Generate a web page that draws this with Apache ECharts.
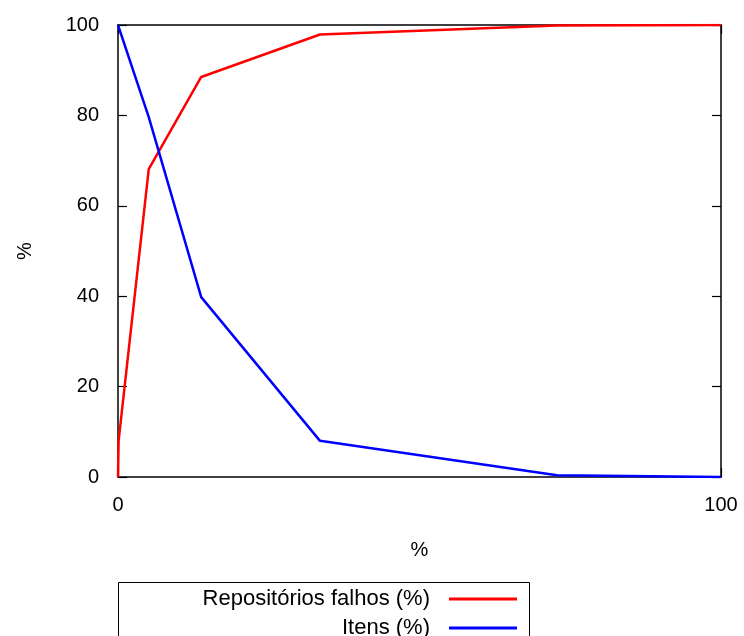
<!DOCTYPE html>
<html>
<head>
<meta charset="utf-8">
<script src="https://cdn.jsdelivr.net/npm/echarts@6/dist/echarts.min.js"></script>
<style>html,body{margin:0;padding:0;background:#fff;}#c{width:744px;height:636px;}</style>
</head>
<body>
<div id="c"></div>
<script>
const seriesNames = ['Repositórios falhos (%)', 'Itens (%)'];
const falhosX = [0, 0.1, 5.1, 13.8, 33.5, 72.8, 100];
const falhosY = [0, 8, 68.1, 88.5, 97.9, 99.9, 100];
const itensX = [0, 5.1, 13.8, 33.5, 72.8, 100];
const itensY = [100, 79.6, 39.8, 8.0, 0.4, 0];
const colors = ['#ff0000', '#0000ff'];
const xTicks = [0, 100];
const yTicks = [0, 20, 40, 60, 80, 100];

const font = 'Liberation Sans, Arial, Helvetica, sans-serif';
const chart = echarts.init(document.getElementById('c'));
const zip = (xs, ys) => xs.map((x, i) => [x, ys[i]]);
const axisCommon = {
  min: 0, max: 100,
  axisLine: {show: true, onZero: false, lineStyle: {color: '#000', width: 1.5}},
  axisTick: {show: true, inside: true, length: 9, lineStyle: {color: '#000', width: 1.2}},
  splitLine: {show: false}
};
chart.setOption({
  animation: false,
  backgroundColor: '#fff',
  grid: {left: 118, right: 23, top: 25, bottom: 159, containLabel: false},
  xAxis: [
    Object.assign({}, axisCommon, {
      type: 'value', position: 'bottom', interval: 100,
      name: '%', nameLocation: 'middle', nameGap: 63,
      nameTextStyle: {fontFamily: font, fontSize: 20, color: '#000'},
      axisLabel: {fontFamily: font, fontSize: 20, color: '#000', margin: 18,
        formatter: v => xTicks.includes(v) ? String(v) : ''}
    }),
    Object.assign({}, axisCommon, {
      type: 'value', position: 'top', interval: 100, axisLabel: {show: false}
    })
  ],
  yAxis: [
    Object.assign({}, axisCommon, {
      type: 'value', position: 'left', interval: 20,
      name: '%', nameLocation: 'middle', nameGap: 83,
      nameTextStyle: {fontFamily: font, fontSize: 20, color: '#000'},
      axisLabel: {fontFamily: font, fontSize: 20, color: '#000', margin: 19,
        formatter: v => yTicks.includes(v) ? String(v) : ''}
    }),
    Object.assign({}, axisCommon, {
      type: 'value', position: 'right', interval: 20, axisLabel: {show: false}
    })
  ],
  legend: {
    orient: 'vertical', align: 'right', right: 227, top: 588, height: 200,
    padding: 0, itemGap: 7, itemWidth: 68, itemHeight: 3,
    icon: 'rect',
    textStyle: {fontFamily: font, fontSize: 22, color: '#000', lineHeight: 22, padding: [0, 14, 0, 0]},
    data: seriesNames
  },
  graphic: [{
    type: 'rect', z: 0,
    shape: {x: 118.5, y: 582.5, width: 411, height: 80},
    style: {fill: 'none', stroke: '#000', lineWidth: 1}
  }],
  series: [
    {name: seriesNames[0], type: 'line', data: zip(falhosX, falhosY), showSymbol: false,
     color: colors[0], lineStyle: {width: 2.5, color: colors[0]}, z: 3},
    {name: seriesNames[1], type: 'line', data: zip(itensX, itensY), showSymbol: false,
     color: colors[1], lineStyle: {width: 2.5, color: colors[1]}, z: 3}
  ]
});
</script>
</body>
</html>
